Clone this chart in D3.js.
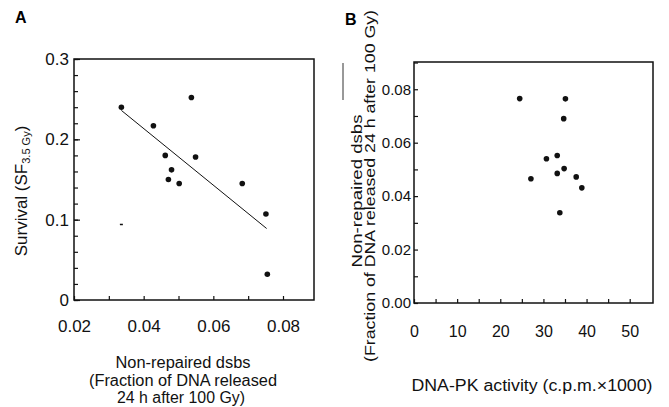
<!DOCTYPE html>
<html lang="en">
<head>
<meta charset="UTF-8">
<title>DNA-PK / dsbs</title>
<script src="https://d3js.org/d3.v7.min.js"></script>
<style>
body { margin: 0; background: #fff; }
svg { font-family: Arial, "Liberation Sans", sans-serif; }
.axis path { display: none; }
.axis line { stroke: #111; stroke-width: 1.2; }
.axis text { fill: #111; }
.frame { fill: none; stroke: #111; stroke-width: 1.5; }
.dot { fill: #111; }
.title { fill: #111; }
</style>
</head>
<body>
<script>
// panel A: non-repaired dsbs vs survival
var dsbsA     = [0.0336, 0.0428, 0.0537, 0.0462, 0.0549, 0.0480, 0.0471, 0.0502, 0.0683, 0.0751, 0.0755];
var survivalA = [0.240,  0.217,  0.252,  0.180,  0.178,  0.162,  0.150,  0.145,  0.145,  0.107,  0.032];
var fitA      = [[0.0336, 0.236], [0.0753, 0.089]];   // regression line end points
var strayA    = [0.0336, 0.094];                       // small dash in the original
var xTicksA = [0.02, 0.04, 0.06, 0.08];
var yTicksA = [0, 0.1, 0.2, 0.3];

// panel B: DNA-PK activity vs non-repaired dsbs
var dnapkB = [24.5, 35.1, 34.7, 33.2, 30.7, 27.1, 33.2, 34.8, 37.6, 38.9, 33.8];
var dsbsB  = [0.0765, 0.0764, 0.069, 0.0552, 0.054, 0.0465, 0.0485, 0.0503, 0.0472, 0.0431, 0.0338];
var xTicksB = [0, 10, 20, 30, 40, 50];
var yTicksB = [0, 0.02, 0.04, 0.06, 0.08];

var svg = d3.select("body").append("svg")
    .attr("width", 669)
    .attr("height", 407);

// stretched text like the scanned figure
function label(x, y, rot, size, len, str) {
    var t = svg.append("text").attr("class", "title")
        .attr("text-anchor", "middle")
        .style("font-size", size + "px")
        .text(str);
    if (rot) t.attr("transform", "translate(" + x + "," + y + ") rotate(-90)");
    else t.attr("x", x).attr("y", y);
    if (len) t.attr("textLength", len).attr("lengthAdjust", "spacingAndGlyphs");
    return t;
}

// ---------- A ----------
var xA = d3.scaleLinear().domain([0.02, 0.0889]).range([74, 314]);
var yA = d3.scaleLinear().domain([0, 0.3]).range([300, 59]);

svg.append("text").text("A")
    .attr("x", 15).attr("y", 23)
    .style("font-size", "16px").style("font-weight", "bold");

svg.append("rect").attr("class", "frame")
    .attr("x", 74).attr("y", 59).attr("width", 240).attr("height", 241);

// minor ticks
svg.append("g").attr("class", "axis")
    .attr("transform", "translate(74,0)")
    .call(d3.axisLeft(yA).tickValues(d3.range(0, 0.301, 0.02)).tickSize(-4).tickFormat(""));
svg.append("g").attr("class", "axis")
    .attr("transform", "translate(0,300)")
    .call(d3.axisBottom(xA).tickValues(d3.range(0.02, 0.085, 0.01)).tickSize(-4).tickFormat(""));

// labelled ticks
svg.append("g").attr("class", "axis")
    .attr("transform", "translate(74,0)")
    .style("font-size", "17px")
    .call(d3.axisLeft(yA).tickValues(yTicksA).tickSize(-6).tickPadding(5)
        .tickFormat(function(d) { return d === 0 ? "0" : d3.format(".1f")(d); }));
svg.append("g").attr("class", "axis")
    .attr("transform", "translate(0,300)")
    .style("font-size", "17px")
    .call(d3.axisBottom(xA).tickValues(xTicksA).tickSize(0).tickPadding(20)
        .tickFormat(d3.format(".2f")));

svg.append("line")
    .attr("x1", xA(fitA[0][0])).attr("y1", yA(fitA[0][1]))
    .attr("x2", xA(fitA[1][0])).attr("y2", yA(fitA[1][1]))
    .attr("stroke", "#111").attr("stroke-width", 1);

svg.append("line")
    .attr("x1", xA(strayA[0]) - 1.5).attr("x2", xA(strayA[0]) + 1.5)
    .attr("y1", yA(strayA[1])).attr("y2", yA(strayA[1]))
    .attr("stroke", "#111").attr("stroke-width", 1.5);

svg.selectAll(".dotA").data(dsbsA).enter().append("circle")
    .attr("class", "dot")
    .attr("cx", function(d) { return xA(d); })
    .attr("cy", function(d, i) { return yA(survivalA[i]); })
    .attr("r", 2.8);

var ylabA = svg.append("text").attr("class", "title")
    .attr("transform", "translate(27,191) rotate(-90)")
    .attr("text-anchor", "middle")
    .style("font-size", "17px");
ylabA.append("tspan").text("Survival (SF");
ylabA.append("tspan").text("3.5 Gy").style("font-size", "11px").attr("dy", 3);
ylabA.append("tspan").text(")").attr("dy", -3);

label(183, 368, false, 16, 135, "Non-repaired dsbs");
label(183, 386, false, 16, 188, "(Fraction of DNA released");
label(181, 403, false, 16, 128, "24 h after 100 Gy)");

// ---------- B ----------
var xB = d3.scaleLinear().domain([0, 55.4]).range([414, 653]);
var yB = d3.scaleLinear().domain([0, 0.0902]).range([303, 62]);

svg.append("text").text("B")
    .attr("x", 345).attr("y", 25)
    .style("font-size", "16px").style("font-weight", "bold");

svg.append("rect").attr("class", "frame")
    .attr("x", 414).attr("y", 62).attr("width", 239).attr("height", 241);

svg.append("line")
    .attr("x1", 343).attr("x2", 343).attr("y1", 63).attr("y2", 100)
    .attr("stroke", "#333").attr("stroke-width", 1);

svg.append("g").attr("class", "axis")
    .attr("transform", "translate(414,0)")
    .call(d3.axisLeft(yB).tickValues(d3.range(0, 0.0901, 0.01)).tickSize(-4).tickFormat(""));
svg.append("g").attr("class", "axis")
    .attr("transform", "translate(0,303)")
    .call(d3.axisBottom(xB).tickValues(d3.range(0, 55, 5)).tickSize(-4).tickFormat(""));

svg.append("g").attr("class", "axis")
    .attr("transform", "translate(414,0)")
    .style("font-size", "15px")
    .call(d3.axisLeft(yB).tickValues(yTicksB).tickSize(0).tickPadding(3)
        .tickFormat(d3.format(".2f")));
svg.append("g").attr("class", "axis")
    .attr("transform", "translate(0,303)")
    .style("font-size", "16px")
    .call(d3.axisBottom(xB).tickValues(xTicksB).tickSize(0).tickPadding(23));

svg.selectAll(".dotB").data(dnapkB).enter().append("circle")
    .attr("class", "dot")
    .attr("cx", function(d) { return xB(d); })
    .attr("cy", function(d, i) { return yB(dsbsB[i]); })
    .attr("r", 2.8);

label(362, 191, true, 15, 153, "Non-repaired dsbs");
label(375, 186, true, 15, 352, "(Fraction of DNA released 24 h after 100 Gy)");

label(532, 391, false, 16, 241, "DNA-PK activity (c.p.m.\u00d71000)");
</script>
</body>
</html>
